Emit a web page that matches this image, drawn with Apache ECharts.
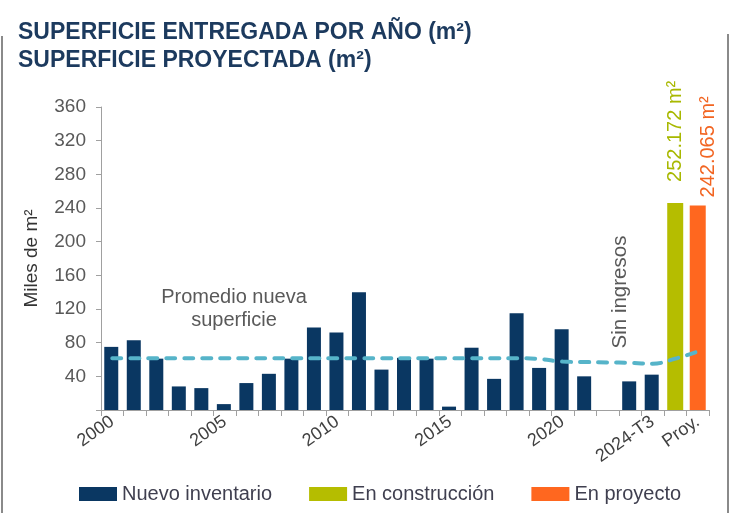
<!DOCTYPE html>
<html>
<head>
<meta charset="utf-8">
<script src="https://cdn.jsdelivr.net/npm/echarts@6/dist/echarts.min.js"></script>
<style>
html,body{margin:0;padding:0;background:#fff;}
#c{width:730px;height:513px;}
</style>
</head>
<body>
<div id="c"></div>
<script>
const categories = ['2000','2001','2002','2003','2004','2005','2006','2007','2008','2009',
  '2010','2011','2012','2013','2014','2015','2016','2017','2018','2019',
  '2020','2021','2022','2023','2024-T3','','Proy.'];
const nuevoInventario = [75,83,61,28,26,7,32,43,61,98,92,140,48,62,61,4,74,37,115,50,96,40,null,34,42,null,null];
const enConstruccion = [null,null,null,null,null,null,null,null,null,null,null,null,null,null,null,null,null,null,null,null,null,null,null,null,null,246,null];
const enProyecto = [null,null,null,null,null,null,null,null,null,null,null,null,null,null,null,null,null,null,null,null,null,null,null,null,null,null,243];
const promedio = [61.5,61.5,61.5,61.5,61.5,61.5,61.5,61.5,61.5,61.5,61.5,61.5,61.5,61.5,61.5,61.5,61.5,61.5,61.5,60.5,57.5,57,56.5,56,55,61,69.5];
const yTicks = {min:0, max:360, interval:40};
const shownLabels = ['2000','2005','2010','2015','2020','2024-T3','Proy.'];
const labelConstruccion = '252.172 m²';
const labelProyecto = '242.065 m²';

const FONT = 'Liberation Sans, Arial, sans-serif';
const chart = echarts.init(document.getElementById('c'));
chart.setOption({
  animation:false,
  backgroundColor:'#fff',
  title:{
    text:'SUPERFICIE ENTREGADA POR AÑO (m²)\nSUPERFICIE PROYECTADA (m²)',
    left:18, top:19, padding:0,
    textStyle:{fontFamily:FONT,fontSize:23,fontWeight:'bold',color:'#1c3a5e',lineHeight:28}
  },
  legend:{
    data:['Nuevo inventario','En construcción','En proyecto'],
    left:79, top:484, padding:0, itemWidth:38, itemHeight:14, itemGap:37,
    icon:'rect',
    textStyle:{fontFamily:FONT,fontSize:20,color:'#3f3f4f',padding:[0,0,0,0]}
  },
  grid:{left:101, right:21, top:107, bottom:103},
  xAxis:{
    type:'category', data:categories,
    axisLine:{lineStyle:{color:'#a0a0a0',width:1}},
    axisTick:{show:true, length:6, lineStyle:{color:'#a0a0a0'}, interval:0},
    axisLabel:{
      interval:function(i,v){return shownLabels.indexOf(v)>=0;},
      rotate:35, margin:10, fontFamily:FONT, fontSize:18, color:'#404040'
    }
  },
  yAxis:{
    type:'value', min:yTicks.min, max:yTicks.max, interval:yTicks.interval,
    name:'Miles de m²', nameLocation:'middle', nameGap:60, nameRotate:90,
    nameTextStyle:{fontFamily:FONT,fontSize:19,color:'#333'},
    axisLine:{show:true,lineStyle:{color:'#a0a0a0'}},
    axisTick:{show:true,length:5,lineStyle:{color:'#a0a0a0'}},
    splitLine:{show:false},
    axisLabel:{margin:15,fontFamily:FONT,fontSize:19,color:'#595959',
      formatter:function(v){return v===0?'':String(v);}}
  },
  series:[
    {name:'Nuevo inventario', type:'bar', data:nuevoInventario, barWidth:14, barGap:'-100%',
      itemStyle:{color:'#0a3762'}},
    {name:'En construcción', type:'bar', data:enConstruccion, barWidth:16, barGap:'-100%',
      itemStyle:{color:'#b5bd00'},
      label:{show:true, position:'top', rotate:90, align:'left', verticalAlign:'middle', distance:21,
        formatter:labelConstruccion, fontFamily:FONT, fontSize:20, color:'#a8b800'}},
    {name:'En proyecto', type:'bar', data:enProyecto, barWidth:16, barGap:'-100%',
      itemStyle:{color:'#ff671f'},
      label:{show:true, position:'top', rotate:90, align:'left', verticalAlign:'middle', distance:8,
        offset:[0,11],
        formatter:labelProyecto, fontFamily:FONT, fontSize:20, color:'#f26522'}},
    {name:'Promedio', type:'line', data:promedio, smooth:0.4, symbol:'none', z:5,
      lineStyle:{color:'#56b4c9', width:4, type:[9,9], cap:'round'}}
  ],
  graphic:[
    {type:'text', x:234, y:309, style:{text:'Promedio nueva\nsuperficie', textAlign:'center', textVerticalAlign:'middle',
      fontFamily:FONT, fontSize:20, lineHeight:23, fill:'#595959'}},
    {type:'text', x:620, y:292, rotation:Math.PI/2, style:{text:'Sin ingresos', textAlign:'center', textVerticalAlign:'middle',
      fontFamily:FONT, fontSize:20.5, fill:'#595959'}},
    {type:'line', shape:{x1:2,y1:36,x2:2,y2:513}, style:{stroke:'#8a8a8a',lineWidth:2}},
    {type:'line', shape:{x1:728,y1:34,x2:728,y2:513}, style:{stroke:'#8a8a8a',lineWidth:2}}
  ]
});
</script>
</body>
</html>
